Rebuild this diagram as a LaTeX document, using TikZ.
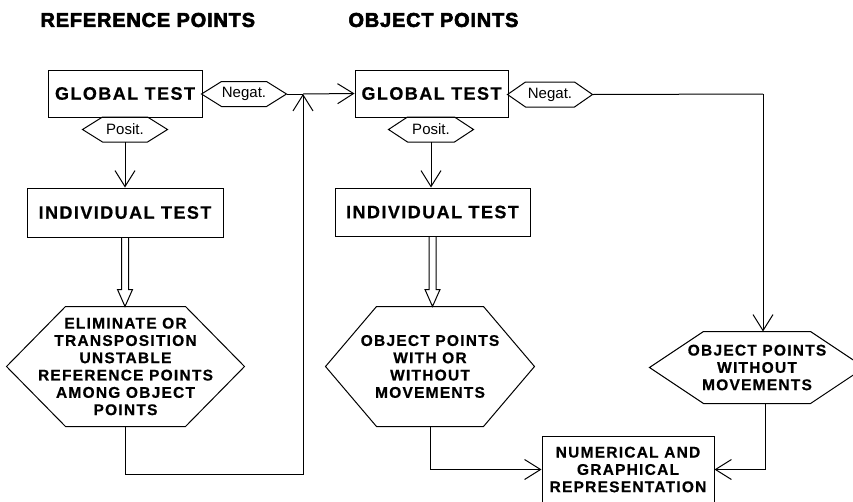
\documentclass[tikz,border=0pt]{standalone}
\usepackage{fontspec}
\setmainfont{Liberation Sans}
\newfontfamily\boxfont[LetterSpace=8,FakeBold=0.6]{Liberation Sans Bold}
\newfontfamily\headfont[LetterSpace=4,FakeBold=3]{Liberation Sans Bold}
\usetikzlibrary{arrows.meta,calc}

% hexagon outline round a node: name, depth of the points
\newcommand\hexframe[2]{%
  \draw (#1.west) -- ([xshift=#2]#1.north west) -- ([xshift=-#2]#1.north east) -- (#1.east)
    -- ([xshift=-#2]#1.south east) -- ([xshift=#2]#1.south west) -- cycle;}
% hollow block arrow from one anchor down to another
\newcommand\hollowarrow[2]{%
  \draw let \p1=(#1), \p2=(#2) in (\x1-3.5pt,\y1) -- (\x1-3.5pt,\y2+17pt) -- (\x1-7.5pt,\y2+17pt)
    -- (\x1,\y2) -- (\x1+7.5pt,\y2+17pt) -- (\x1+3.5pt,\y2+17pt) -- (\x1+3.5pt,\y1);}

\begin{document}
\begin{tikzpicture}[x=1pt,y=-1pt,line width=1pt,>={Straight Barb[length=16pt,width=20pt]},
  box/.style={draw,rectangle,inner sep=0pt,font=\boxfont\fontsize{18}{20}\selectfont},
  hexa/.style={inner sep=0pt,align=center,font=\boxfont\fontsize{15.5}{17.3}\selectfont},
  tag/.style={inner sep=0pt,minimum width=84pt,minimum height=24pt,font=\fontsize{15}{17}\selectfont},
  head/.style={anchor=west,inner sep=0pt,font=\headfont\fontsize{20}{22}\selectfont}]
  \useasboundingbox (0,0) rectangle (853,501);

  \node[head] (refhead) at (40,20) {REFERENCE POINTS};
  \node[head] (objhead) at (348,20) {OBJECT POINTS};

  % reference points
  \node[box,minimum width=154pt,minimum height=47pt] (gt1) at (125,93.5) {GLOBAL TEST};
  \node[tag] (neg1) at (244,94) {Negat.};
  \node[tag] (pos1) at (125,129.5) {Posit.};
  \node[box,minimum width=196pt,minimum height=49pt] (it1) at (125,212.5) {INDIVIDUAL TEST};
  \node[hexa,minimum width=237pt,minimum height=119pt] (elim) at (125.5,366.5)
    {ELIMINATE OR\\TRANSPOSITION\\UNSTABLE\\REFERENCE POINTS\\AMONG OBJECT\\POINTS};
  \hexframe{neg1}{20pt}
  \hexframe{pos1}{20pt}
  \hexframe{elim}{59pt}

  % object points
  \node[box,minimum width=153pt,minimum height=47pt] (gt2) at (431.5,93.5) {GLOBAL TEST};
  \node[tag] (neg2) at (550,94.5) {Negat.};
  \node[tag] (pos2) at (431,129.5) {Posit.};
  \node[box,minimum width=195pt,minimum height=48pt] (it2) at (432.5,212) {INDIVIDUAL TEST};
  \node[hexa,minimum width=208pt,minimum height=119pt] (owm) at (430,366.5)
    {OBJECT POINTS\\WITH OR\\WITHOUT\\MOVEMENTS};
  \node[hexa,minimum width=214pt,minimum height=71pt] (wom) at (757,367.5)
    {OBJECT POINTS\\WITHOUT\\MOVEMENTS};
  \node[hexa,draw,minimum width=172pt,minimum height=66pt] (ngr) at (628,469.5)
    {NUMERICAL AND\\GRAPHICAL\\REPRESENTATION};
  \hexframe{neg2}{18pt}
  \hexframe{pos2}{19pt}
  \hexframe{owm}{51pt}
  \hexframe{wom}{54pt}

  % connectors
  \coordinate (join) at (303,94);
  \coordinate (turn) at (763,94);
  \draw (neg1.east) -- (join);
  \draw[->] (join) -- (gt2.west);
  \draw[->] (elim.south) -- ++(0,48) -| (join);
  \draw[->] (pos1.south) -- (it1.north);
  \hollowarrow{it1.south}{elim.north}
  \draw[->] (pos2.south) -- (pos2.south |- it2.north);
  \hollowarrow{it2.south}{owm.north}
  \draw (neg2.east) -- (turn);
  \draw[->] (turn) -- (turn |- wom.north);
  \draw[->] (owm.south) |- (ngr.west);
  \draw[->] ([xshift=8pt]wom.south) |- (ngr.east);
\end{tikzpicture}
\end{document}
